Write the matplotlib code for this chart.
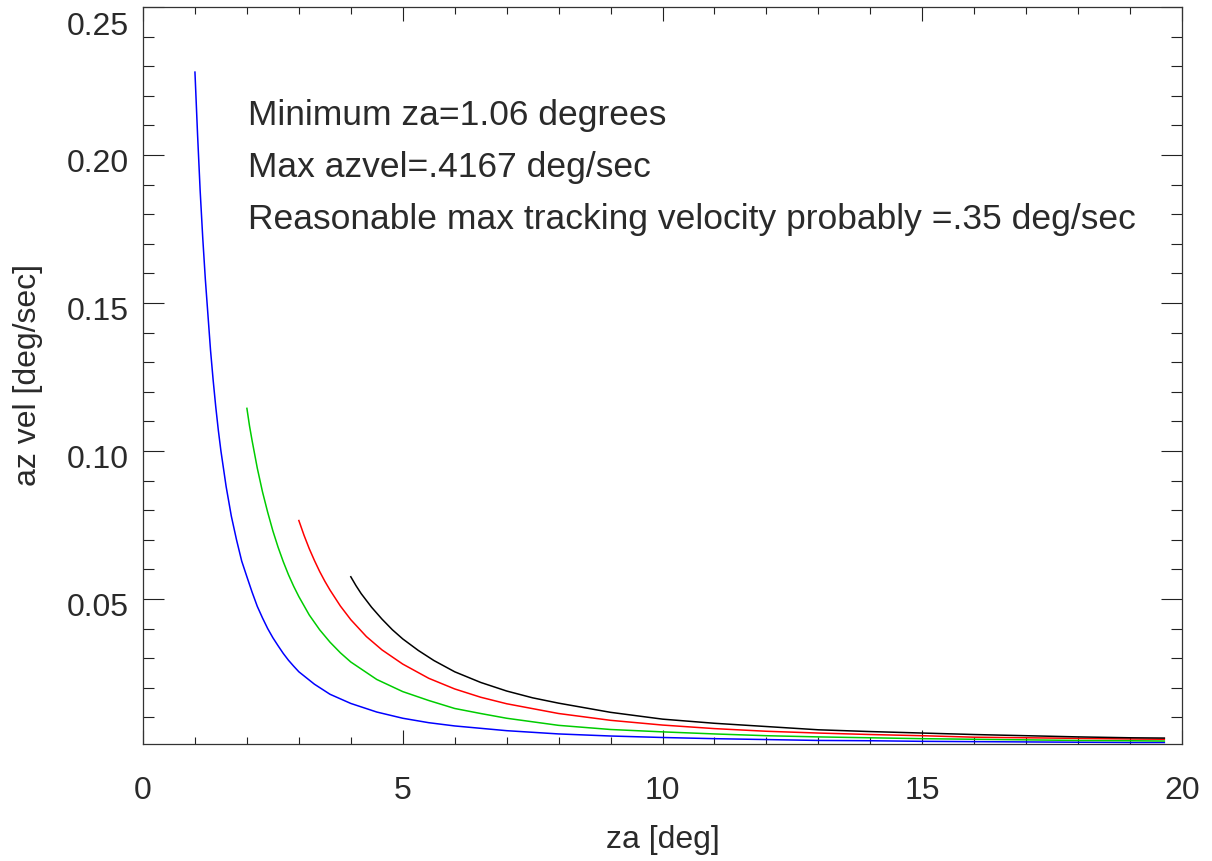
import matplotlib
matplotlib.use("Agg")
import matplotlib.pyplot as plt
from matplotlib.ticker import MultipleLocator, FixedLocator
import matplotlib.transforms as mtrans

plt.rcParams['font.family'] = ['Liberation Sans', 'DejaVu Sans']

# --- data ---
za_blue = [1.0, 1.05, 1.1, 1.15, 1.2, 1.25, 1.3, 1.35, 1.4, 1.45, 1.5, 1.6, 1.7, 1.8, 1.9,
           2.0, 2.1, 2.2, 2.3, 2.4, 2.5, 2.6, 2.7, 2.8, 2.9, 3.0, 3.3, 3.6, 4.0, 4.5, 5.0,
           5.5, 6.0, 7.0, 8.0, 9.0, 10, 11, 12, 13, 14, 15, 16, 17, 18, 19, 19.66]
vel_blue = [0.228, 0.207, 0.188, 0.172, 0.158, 0.146, 0.134, 0.124, 0.115, 0.107, 0.100,
            0.088, 0.078, 0.0700, 0.0628, 0.0575, 0.0523, 0.0475, 0.0436, 0.0400, 0.0369,
            0.0342, 0.0316, 0.0293, 0.0273, 0.0254, 0.0212, 0.0178, 0.0147, 0.0118, 0.0097,
            0.0082, 0.0071, 0.0055, 0.0044, 0.0037, 0.0032, 0.0028, 0.0025, 0.0022, 0.0021,
            0.0019, 0.0018, 0.0017, 0.0016, 0.0015, 0.0015]

za_green = [2.0, 2.05, 2.1, 2.2, 2.3, 2.4, 2.5, 2.6, 2.7, 2.8, 2.9, 3.0, 3.2, 3.4, 3.6, 3.8,
            4.0, 4.5, 5.0, 5.5, 6.0, 6.5, 7.0, 8.0, 9.0, 10, 11, 12, 13, 14, 15, 16, 17, 18,
            19, 19.66]
vel_green = [0.1144, 0.1085, 0.1035, 0.0942, 0.0862, 0.0793, 0.0730, 0.0675, 0.0626, 0.0582,
             0.0543, 0.0508, 0.0446, 0.0396, 0.0354, 0.0318, 0.0287, 0.0228, 0.0187, 0.0157,
             0.0130, 0.0113, 0.0097, 0.0073, 0.0059, 0.0051, 0.0044, 0.0038, 0.0034, 0.0031,
             0.0028, 0.0026, 0.0024, 0.0022, 0.0021, 0.0020]

za_red = [3.0, 3.1, 3.2, 3.3, 3.4, 3.5, 3.6, 3.8, 4.0, 4.3, 4.6, 5.0, 5.5, 6.0, 6.5, 7.0, 8.0,
          9.0, 10, 11, 12, 13, 14, 15, 16, 17, 18, 19, 19.66]
vel_red = [0.0765, 0.0715, 0.0670, 0.0630, 0.0593, 0.0560, 0.0530, 0.0476, 0.0430, 0.0373,
           0.0328, 0.0280, 0.0232, 0.0196, 0.0168, 0.0146, 0.0113, 0.0090, 0.0074, 0.0062,
           0.0053, 0.0047, 0.0042, 0.0038, 0.0033, 0.0031, 0.0029, 0.0027, 0.0026]

za_black = [4.0, 4.1, 4.2, 4.4, 4.6, 4.8, 5.0, 5.3, 5.6, 6.0, 6.5, 7.0, 7.5, 8.0, 9.0, 10, 11,
            12, 13, 14, 15, 16, 17, 18, 19, 19.66]
vel_black = [0.0575, 0.0545, 0.0518, 0.0472, 0.0432, 0.0396, 0.0365, 0.0326, 0.0292, 0.0254,
             0.0218, 0.0189, 0.0166, 0.0148, 0.0117, 0.0094, 0.0080, 0.0069, 0.0058, 0.0052,
             0.0047, 0.0042, 0.0038, 0.0034, 0.0031, 0.0030]

x_ticks = [0, 5, 10, 15, 20]
y_ticks = [0.05, 0.10, 0.15, 0.20, 0.25]
y_tick_labels = ["0.05", "0.10", "0.15", "0.20", "0.25"]

notes = ["Minimum za=1.06 degrees",
         "Max azvel=.4167 deg/sec",
         "Reasonable max tracking velocity probably =.35 deg/sec"]

TXT = '#2a2a2a'

fig = plt.figure(figsize=(12.12, 8.61), dpi=100)
ax = fig.add_axes([143 / 1212, 1 - 744 / 861, 1039 / 1212, 737 / 861])

lw = 1.1
ax.plot(za_blue, vel_blue, color='#0000ff', lw=lw)
ax.plot(za_green, vel_green, color='#00cc00', lw=lw)
ax.plot(za_red, vel_red, color='#ff0000', lw=lw)
ax.plot(za_black, vel_black, color='#000000', lw=lw)

ax.set_xlim(0, 20)
ax.set_ylim(0.001, 0.25)

ax.xaxis.set_major_locator(FixedLocator(x_ticks))
ax.xaxis.set_minor_locator(MultipleLocator(1))
ax.set_yticks(y_ticks)
ax.set_yticklabels(y_tick_labels)
ax.yaxis.set_minor_locator(MultipleLocator(0.01))

for s in ax.spines.values():
    s.set_color('#333333')
    s.set_linewidth(0.9)

ax.tick_params(axis='both', which='both', direction='in', top=True, right=True,
               colors='#222222', labelcolor=TXT, labelsize=23, width=0.8)
ax.tick_params(axis='x', which='major', length=10, pad=23)
ax.tick_params(axis='x', which='minor', length=5)
ax.tick_params(axis='y', which='major', length=15, pad=10)
ax.tick_params(axis='y', which='minor', length=7.7)

ax.set_xlabel("za [deg]", fontsize=23, color=TXT, labelpad=14)
ax.set_ylabel("az vel [deg/sec]", fontsize=23, color=TXT, labelpad=17)

# slight downward offset of y tick labels, as in the reference
for t in ax.yaxis.get_major_ticks():
    t.label1.set_transform(t.label1.get_transform() +
                           mtrans.ScaledTranslation(0, -4 / 72, fig.dpi_scale_trans))
last = ax.yaxis.get_major_ticks()[-1]
last.label1.set_transform(last.label1.get_transform() +
                          mtrans.ScaledTranslation(0, -8 / 72, fig.dpi_scale_trans))

for i, s in enumerate(notes):
    ax.text(0.101, (744 - (125 + 52 * i)) / 737, s, transform=ax.transAxes,
            fontsize=25.5, color=TXT, va='baseline', ha='left')

fig.savefig("out.png", dpi=100)
